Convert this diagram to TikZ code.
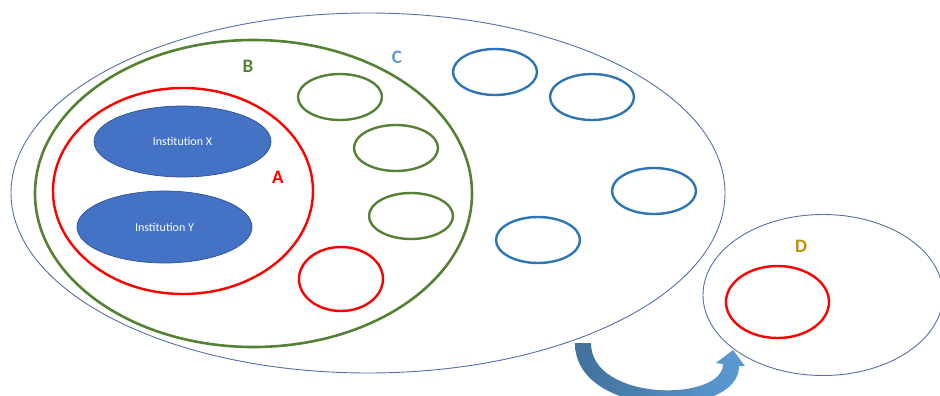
\documentclass[tikz,border=0pt]{standalone}
\usepackage{fontspec}
\setmainfont{Carlito}
\usetikzlibrary{shapes.geometric}
\definecolor{cblue}{HTML}{2E75B6}
\definecolor{cgreen}{HTML}{548235}
\definecolor{cred}{HTML}{FF0000}
\definecolor{cgray}{HTML}{5470A8}
\definecolor{cfill}{HTML}{4472C4}
\definecolor{cedge}{HTML}{2F528F}
\definecolor{clabC}{HTML}{5B9BD5}
\definecolor{clabD}{HTML}{BF9000}
\definecolor{arrL}{HTML}{41719C}
\definecolor{arrR}{HTML}{5B9BD5}
\begin{document}
\begin{tikzpicture}[x=1pt,y=-1pt,
  thinoval/.style={ellipse,draw=cgray,line width=0.9pt,inner sep=0pt},
  greenoval/.style={ellipse,draw=cgreen,line width=2.4pt,inner sep=0pt,minimum width=84pt,minimum height=46pt},
  blueoval/.style={ellipse,draw=cblue,line width=2.4pt,inner sep=0pt,minimum width=84pt,minimum height=46pt},
  redoval/.style={ellipse,draw=cred,line width=2.4pt,inner sep=0pt},
  inst/.style={ellipse,fill=cfill,draw=cedge,line width=0.7pt,inner sep=0pt,text=white,font=\fontsize{12}{14}\selectfont},
  biglab/.style={font=\fontsize{19}{22}\selectfont\bfseries,inner sep=0pt}
]
\useasboundingbox (0,0) rectangle (940,396);
% C
\node[thinoval,minimum width=714pt,minimum height=360pt] (C) at (368,193) {};
% B
\node[ellipse,draw=cgreen,line width=2.6pt,inner sep=0pt,minimum width=437pt,minimum height=307pt] (B) at (253.5,193.5) {};
% A
\node[redoval,minimum width=260pt,minimum height=206pt] (A) at (183,191) {};
% Institutions
\node[inst,minimum width=177pt,minimum height=71pt] (X) at (182.5,141.5) {Institution X};
\node[inst,minimum width=175pt,minimum height=72pt] (Y) at (164.5,227) {Institution Y};
% labels
\node[biglab,text=cred] (labA) at (278,177) {A};
\node[biglab,text=cgreen] (labB) at (248,66) {B};
\node[biglab,text=clabC] (labC) at (397,57) {C};
\node[biglab,text=clabD] (labD) at (801,246) {D};
% green small
\node[greenoval] (g1) at (340,97) {};
\node[greenoval] (g2) at (396,148) {};
\node[greenoval] (g3) at (411,216) {};
% red small in B
\node[redoval,minimum width=84pt,minimum height=64pt] (r1) at (341,279) {};
% blue small
\node[blueoval] (b1) at (495,72) {};
\node[blueoval] (b2) at (592,97) {};
\node[blueoval] (b3) at (654,191) {};
\node[blueoval] (b4) at (538,240) {};
% D
\node[thinoval,minimum width=240pt,minimum height=161pt] (D) at (823,295) {};
\node[redoval,minimum width=103pt,minimum height=72pt] (r2) at (777.5,302) {};
% curved block arrow
\shade[left color=arrL,right color=arrR]
  (575,343) .. controls (575,420) and (740,420) .. (739,366)
  -- (745,366) -- (733,350) -- (716,363) -- (723,364)
  .. controls (723,402) and (591,402) .. (591,343) -- cycle;
\end{tikzpicture}
\end{document}
